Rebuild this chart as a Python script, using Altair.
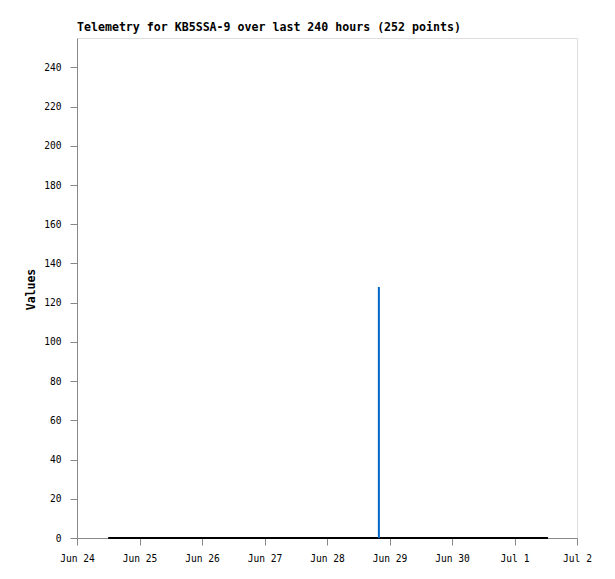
import altair as alt
import pandas as pd

# Data
line_times = ["2024-06-24T12:00:00", "2024-07-01T12:50:00"]
line_values = [0, 0]
spike_times = ["2024-06-28T19:55:00"]
spike_values = [128]
y_ticks = [0, 20, 40, 60, 80, 100, 120, 140, 160, 180, 200, 220, 240]
x_tick_days = [(6, 24), (6, 25), (6, 26), (6, 27), (6, 28), (6, 29), (6, 30), (7, 1), (7, 2)]
title_text = "Telemetry for KB5SSA-9 over last 240 hours (252 points)"

MONO = "DejaVu Sans Mono"

line_df = pd.DataFrame({"time": line_times, "value": line_values})
spike_df = pd.DataFrame({"time": spike_times, "value": spike_values, "base": [0] * len(spike_values)})

x_values = [alt.DateTime(year=2024, month=m, date=d) for m, d in x_tick_days]
x_scale = alt.Scale(domain=[x_values[0], x_values[-1]])
y_scale = alt.Scale(domain=[0, 255], nice=False, zero=True)

x_axis = alt.Axis(values=x_values, format="%b %-d", title=None, labelPadding=8,
                  tickSize=7, labelFont=MONO, labelFontSize=9.6, grid=False,
                  labelFlush=False, labelOverlap=False)
y_axis = alt.Axis(values=y_ticks, title="Values", labelPadding=9, tickSize=7,
                  labelFont=MONO, labelFontSize=9.6, grid=False,
                  titleFont=MONO, titleFontSize=11.5, titleFontWeight="bold",
                  titleX=-43, titleY=251, titleBaseline="alphabetic", titleAngle=270)

base_line = alt.Chart(line_df).mark_line(color="black", strokeWidth=2).encode(
    x=alt.X("time:T", scale=x_scale, axis=x_axis),
    y=alt.Y("value:Q", scale=y_scale, axis=y_axis),
)

spike = alt.Chart(spike_df).mark_rule(color="#0066cc", strokeWidth=2).encode(
    x=alt.X("time:T", scale=x_scale),
    y=alt.Y("base:Q", scale=y_scale),
    y2="value:Q",
)

chart = alt.layer(base_line, spike).properties(
    width=500,
    height=500,
    title=alt.TitleParams(text=title_text, anchor="start", frame="group", font=MONO,
                          fontSize=11.6, fontWeight="bold", offset=4, color="black"),
    autosize=alt.AutoSizeParams(type="none"),
    padding={"left": 69, "top": 30, "right": 30, "bottom": 33},
).configure_view(
    stroke="#555555", strokeWidth=1
).configure_axis(
    domainColor="black", tickColor="black", labelColor="black", titleColor="black",
    domainWidth=1, tickWidth=1
).configure(background="white")

chart.save("out.html", embed_options={"renderer": "svg", "actions": False})
